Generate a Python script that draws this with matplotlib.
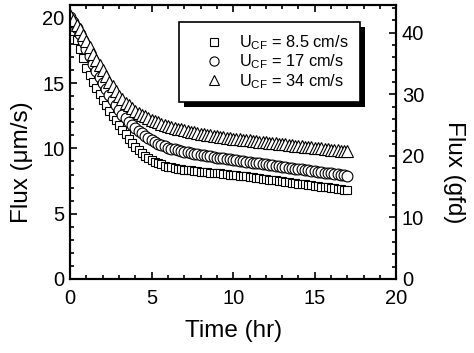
import numpy as np
import matplotlib
matplotlib.use("Agg")
import matplotlib.pyplot as plt
from matplotlib.ticker import MultipleLocator
from matplotlib.patches import Rectangle
from matplotlib.transforms import IdentityTransform

plt.rcParams['font.family'] = ['Liberation Sans', 'DejaVu Sans']

time_hr = np.round(np.arange(0, 17.001, 0.2), 2)

flux_34 = [20.2, 19.85, 19.5, 19.15, 18.7,
           18.25, 17.75, 17.25, 16.8, 16.4,
           16.0, 15.55, 15.1, 14.75, 14.4,
           14.05, 13.8, 13.5, 13.3, 13.1,
           12.9, 12.75, 12.6, 12.45, 12.32,
           12.2, 12.1, 12.0, 11.9, 11.81,
           11.72, 11.65, 11.58, 11.52, 11.46,
           11.4, 11.34, 11.29, 11.23, 11.18,
           11.12, 11.08, 11.04, 11.0, 10.96,
           10.92, 10.89, 10.86, 10.82, 10.79,
           10.76, 10.73, 10.70, 10.68, 10.65,
           10.62, 10.59, 10.56, 10.53, 10.51,
           10.48, 10.45, 10.42, 10.39, 10.37,
           10.34, 10.31, 10.28, 10.25, 10.22,
           10.2, 10.17, 10.14, 10.11, 10.08,
           10.05, 10.03, 10.0, 9.97, 9.94,
           9.91, 9.88, 9.86, 9.83, 9.8,
           9.77]

flux_17 = [20.1, 19.7, 19.25, 18.75, 18.2,
           17.6, 17.05, 16.5, 15.95, 15.45,
           15.0, 14.55, 14.1, 13.7, 13.3,
           12.95, 12.6, 12.3, 12.02, 11.78,
           11.55, 11.35, 11.15, 10.97, 10.8,
           10.65, 10.5, 10.37, 10.25, 10.15,
           10.05, 9.98, 9.92, 9.86, 9.8,
           9.75, 9.7, 9.65, 9.61, 9.56,
           9.52, 9.48, 9.43, 9.39, 9.34,
           9.3, 9.27, 9.23, 9.2, 9.16,
           9.13, 9.09, 9.06, 9.02, 8.99,
           8.95, 8.92, 8.88, 8.85, 8.81,
           8.78, 8.74, 8.71, 8.67, 8.64,
           8.6, 8.57, 8.53, 8.5, 8.46,
           8.43, 8.39, 8.36, 8.32, 8.29,
           8.25, 8.22, 8.18, 8.15, 8.11,
           8.08, 8.04, 8.01, 7.97, 7.94,
           7.9]

flux_85 = [19.9, 19.0, 18.3, 17.6, 16.9,
           16.2, 15.65, 15.1, 14.6, 14.15,
           13.7, 13.3, 12.9, 12.5, 12.15,
           11.8, 11.45, 11.1, 10.75, 10.4,
           10.1, 9.85, 9.62, 9.42, 9.25,
           9.1, 8.98, 8.87, 8.77, 8.68,
           8.6, 8.55, 8.5, 8.46, 8.42,
           8.38, 8.35, 8.32, 8.29, 8.26,
           8.23, 8.2, 8.18, 8.15, 8.13,
           8.1, 8.08, 8.05, 8.03, 8.0,
           7.98, 7.95, 7.91, 7.88, 7.85,
           7.81, 7.78, 7.75, 7.71, 7.68,
           7.65, 7.61, 7.58, 7.55, 7.51,
           7.48, 7.45, 7.41, 7.38, 7.35,
           7.31, 7.28, 7.25, 7.21, 7.18,
           7.15, 7.11, 7.08, 7.05, 7.01,
           6.98, 6.95, 6.91, 6.88, 6.85,
           6.82]

labels = [r"U$_{\mathregular{CF}}$ = 8.5 cm/s",
          r"U$_{\mathregular{CF}}$ = 17 cm/s",
          r"U$_{\mathregular{CF}}$ = 34 cm/s"]

GFD_PER_UMS = 2.12

fig = plt.figure(figsize=(4.74, 3.53), dpi=100)
ax = fig.add_axes([0.148, 0.21, 0.688, 0.776])

mew = 0.8
l1, = ax.plot(time_hr, flux_85, ls='none', marker='s', ms=6.3, mfc='white', mec='black', mew=mew, label=labels[0])
l2, = ax.plot(time_hr, flux_17, ls='none', marker='o', ms=7.8, mfc='white', mec='black', mew=mew, label=labels[1])
l3, = ax.plot(time_hr, flux_34, ls='none', marker='^', ms=8, mfc='white', mec='black', mew=mew, label=labels[2])

ymax = 21.0
ax.set_xlim(0, 20)
ax.set_ylim(0, ymax)
ax.xaxis.set_major_locator(MultipleLocator(5))
ax.xaxis.set_minor_locator(MultipleLocator(1))
ax.yaxis.set_major_locator(MultipleLocator(5))
ax.yaxis.set_minor_locator(MultipleLocator(1))
ax.tick_params(which='both', direction='in', top=True, right=False, width=1.2, labelsize=14.5)
ax.tick_params(axis='x', pad=7)
ax.tick_params(axis='y', pad=4)
ax.tick_params(which='major', length=5)
ax.tick_params(which='minor', length=3)
for s in ax.spines.values():
    s.set_linewidth(1.5)

ax2 = ax.twinx()
ax2.set_ylim(0, ymax * GFD_PER_UMS)
ax2.yaxis.set_major_locator(MultipleLocator(10))
ax2.yaxis.set_minor_locator(MultipleLocator(2))
ax2.tick_params(which='both', direction='in', width=1.2, labelsize=14.5, pad=4)
ax2.tick_params(which='major', length=5)
ax2.tick_params(which='minor', length=3)
for s in ax2.spines.values():
    s.set_linewidth(1.5)

ax.set_xlabel("Time (hr)", fontsize=17.5)
ax.xaxis.set_label_coords(0.5, -0.15)
ax.set_ylabel("Flux (μm/s)", fontsize=17.5)
ax.yaxis.set_label_coords(-0.113, 0.427)
ax2.set_ylabel("Flux (gfd)", fontsize=17.5, rotation=270, va='bottom')
ax2.yaxis.set_label_coords(1.144, 0.39)

leg = ax.legend(handles=[l1, l2, l3], loc='upper right', bbox_to_anchor=(0.89, 0.938),
                fontsize=11.8, frameon=True, fancybox=False, shadow=False,
                handlelength=2.9, handletextpad=0.1, borderpad=0.7, labelspacing=0.04,
                borderaxespad=0, markerscale=0.85)
leg.get_frame().set_edgecolor('black')
leg.get_frame().set_linewidth(1.2)
leg.get_frame().set_alpha(1)

fig.canvas.draw()
bb = leg.get_frame().get_window_extent()
off = 5
shadow = Rectangle((bb.x0 + off, bb.y0 - off), bb.width, bb.height,
                   transform=IdentityTransform(), facecolor='black', edgecolor='none',
                   zorder=leg.get_zorder() - 0.1, clip_on=False)
ax.add_artist(shadow)

fig.savefig("out.png", dpi=100)
